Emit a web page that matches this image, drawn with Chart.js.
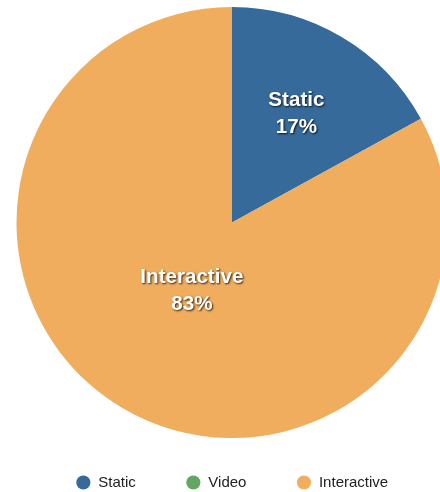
<!DOCTYPE html>
<html>
<head>
<meta charset="utf-8">
<script src="https://cdn.jsdelivr.net/npm/chart.js@4/dist/chart.umd.min.js"></script>
<style>
  html, body { margin: 0; padding: 0; background: #fff; }
  #wrap { width: 440px; height: 492px; overflow: hidden; position: relative; }
  #chart { position: absolute; left: 0; top: 0; }
</style>
</head>
<body>
<div id="wrap"><canvas id="chart" width="464" height="500"></canvas></div>
<script>
const categories = ['Static', 'Video', 'Interactive'];
const shares = [17, 0, 83];
const colors = ['#366a9a', '#62a662', '#f0ad5d'];

// white bold labels on the slices: name + percentage
const sliceLabels = {
    id: 'sliceLabels',
    afterDatasetsDraw(chart, args, opts) {
        const ctx = chart.ctx;
        const meta = chart.getDatasetMeta(0);
        const values = chart.data.datasets[0].data;
        const total = values.reduce((a, b) => a + b, 0);
        ctx.save();
        ctx.font = 'bold 20.6px "Liberation Sans", Arial, sans-serif';
        ctx.textAlign = 'center';
        ctx.textBaseline = 'middle';
        ctx.fillStyle = '#fff';
        ctx.shadowColor = 'rgba(0,0,0,0.8)';
        ctx.shadowBlur = 2;
        ctx.shadowOffsetX = 1;
        ctx.shadowOffsetY = 1;
        meta.data.forEach((arc, i) => {
            if (!values[i]) return;
            const mid = (arc.startAngle + arc.endAngle) / 2;
            const dist = arc.outerRadius * opts.distance[i];
            const x = arc.x + Math.cos(mid) * dist;
            const y = arc.y + Math.sin(mid) * dist;
            const pct = Math.round(values[i] / total * 100) + '%';
            ctx.fillText(chart.data.labels[i], x, y - 13);
            ctx.fillText(pct, x, y + 13.5);
        });
        ctx.restore();
    }
};

new Chart(document.getElementById('chart'), {
    type: 'pie',
    plugins: [sliceLabels],
    data: {
        labels: categories,
        datasets: [{
            data: shares,
            backgroundColor: colors,
            borderWidth: 0,
            clip: false
        }]
    },
    options: {
        responsive: false,
        animation: false,
        events: [],
        radius: 215.5,
        layout: { padding: { top: 20 } },
        plugins: {
            tooltip: { enabled: false },
            sliceLabels: { distance: [0.587, 0, 0.366] },
            legend: {
                position: 'bottom',
                labels: {
                    usePointStyle: true,
                    pointStyle: 'circle',
                    boxWidth: 15,
                    boxHeight: 10,
                    padding: 50,
                    color: '#222',
                    font: { family: '"Liberation Sans", Arial, sans-serif', size: 15 }
                }
            }
        }
    }
});
</script>
</body>
</html>
